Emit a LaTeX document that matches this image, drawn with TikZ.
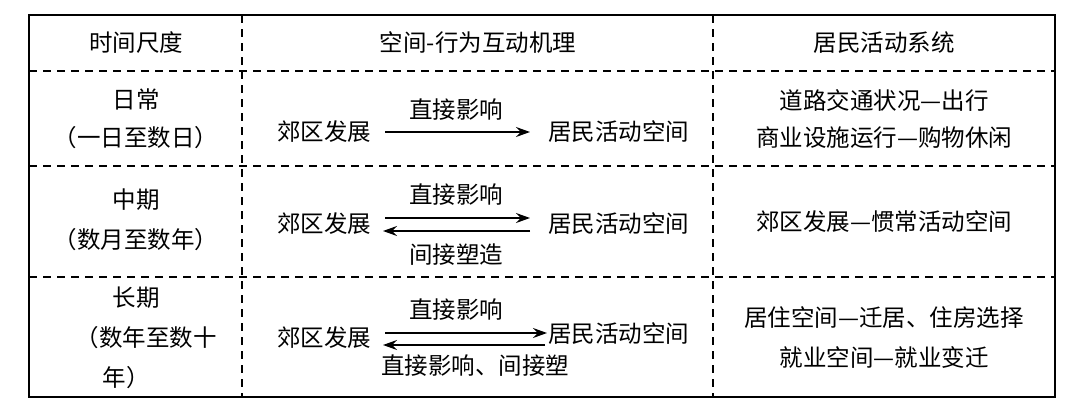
\documentclass[tikz,border=0pt]{standalone}
\usepackage{fontspec}
\setmainfont{Noto Sans CJK SC}
\usetikzlibrary{arrows.meta}
\begin{document}
\begin{tikzpicture}[x=1pt,y=-1pt,
  t/.style={font=\fontsize{23.5}{26}\selectfont, inner sep=0pt},
  dl/.style={dash pattern=on 8pt off 6pt, line width=1.2pt},
  ar/.style={line width=1.4pt, -{Stealth[length=14pt,width=10pt,inset=5pt]}}]
\useasboundingbox (0,0) rectangle (1080,415);
\draw[line width=2pt] (29,15) rectangle (1055,397);
\draw[dl] (29,71) -- (1055,71);
\draw[dl] (29,166) -- (1055,166);
\draw[dl] (29,277) -- (1055,277);
\draw[dl] (242,15) -- (242,397);
\draw[dl] (713,15) -- (713,397);
% header
\node[t] (h1) at (136,43) {时间尺度};
\node[t] (h2) at (478,43) {空间-行为互动机理};
\node[t] (h3) at (884,43) {居民活动系统};
% row 1
\node[t] (r1a) at (136,100) {日常};
\node[t] (r1b) at (136,138) {（一日至数日）};
\node[t,anchor=west] (s1) at (277,132) {郊区发展};
\node[t,anchor=west] (d1) at (548,132) {居民活动空间};
\node[t] (l1) at (456,110) {直接影响};
\draw[ar] (385,132) -- (530,132);
\node[t] (c1a) at (884,100) {道路交通状况—出行};
\node[t] (c1b) at (884,138) {商业设施运行—购物休闲};
% row 2
\node[t] (r2a) at (136,200) {中期};
\node[t] (r2b) at (136,240) {（数月至数年）};
\node[t,anchor=west] (s2) at (277,224) {郊区发展};
\node[t,anchor=west] (d2) at (548,224) {居民活动空间};
\node[t] (l2a) at (456,195) {直接影响};
\node[t] (l2b) at (456,255) {间接塑造};
\draw[ar] (385,218) -- (530,218);
\draw[ar] (530,231) -- (383,231);
\node[t] (c2) at (884,222) {郊区发展—惯常活动空间};
% row 3
\node[t] (r3a) at (136,298) {长期};
\node[t] (r3b) at (146,338) {（数年至数十};
\node[t] (r3c) at (126,378) {年）};
\node[t,anchor=west] (s3) at (277,338) {郊区发展};
\node[t,anchor=west] (d3) at (548,334) {居民活动空间};
\node[t] (l3a) at (456,310) {直接影响};
\node[t] (l3b) at (475,366) {直接影响、间接塑};
\draw[ar] (385,333) -- (547,333);
\draw[ar] (545,345) -- (383,345);
\node[t] (c3a) at (884,318) {居住空间—迁居、住房选择};
\node[t] (c3b) at (884,357) {就业空间—就业变迁};
\end{tikzpicture}
\end{document}
